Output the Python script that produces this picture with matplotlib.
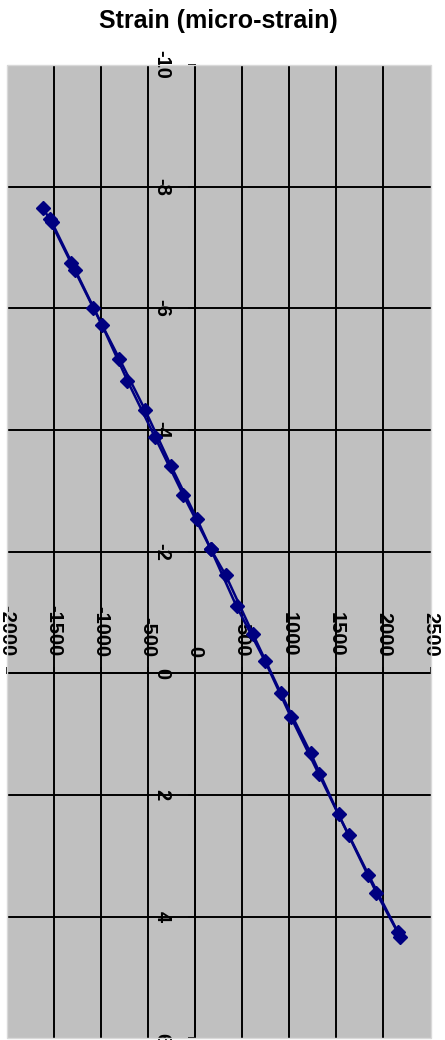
import matplotlib
matplotlib.use('Agg')
import matplotlib.pyplot as plt
from matplotlib.patches import Rectangle

plt.rcParams['font.family'] = ['Liberation Sans', 'DejaVu Sans']
plt.rcParams['font.weight'] = 'bold'

title = "Strain (micro-strain)"
strain_ticks = [-2000, -1500, -1000, -500, 0, 500, 1000, 1500, 2000, 2500]
pos_ticks = [-10, -8, -6, -4, -2, 0, 2, 4, 6]

# series A
pos_a = [-7.64, -7.41, -6.63, -5.73, -4.81, -3.88, -2.93, -2.04, -1.61, -0.64, 0.32, 1.31, 2.32, 3.31, 4.25]
strain_a = [-1618, -1522, -1275, -992, -721, -427, -127, 166, 325, 615, 908, 1226, 1523, 1841, 2152]
# series B
pos_b = [-7.46, -6.74, -6.00, -5.17, -4.32, -3.40, -2.53, -2.04, -1.10, -0.20, 0.71, 1.66, 2.66, 3.61, 4.33]
strain_b = [-1548, -1318, -1081, -806, -530, -254, 21, 166, 439, 742, 1014, 1314, 1629, 1926, 2177]

W, H = 445, 1040
fig = plt.figure(figsize=(W / 100, H / 100), dpi=100)
fig.patch.set_facecolor('white')
ax = fig.add_axes([7 / W, 1.6 / H, 423.5 / W, 973.5 / H])
ax.set_facecolor('#C0C0C0')
ax.set_xlim(strain_ticks[0], strain_ticks[-1])
ax.set_ylim(pos_ticks[-1], pos_ticks[0])

for t in strain_ticks[1:-1]:
    ax.axvline(t, color='black', lw=1.4, zorder=1)
for t in pos_ticks[1:-1]:
    ax.axhline(t, color='black', lw=1.4, zorder=1)

navy = '#000080'
ax.plot(strain_a, pos_a, color=navy, marker='D', ms=7.5, lw=1.8, zorder=4)
ax.plot(strain_b, pos_b, color=navy, marker='D', ms=7.5, lw=1.8, zorder=4)

ax.spines['left'].set_position(('data', 0))
ax.spines['top'].set_position(('data', 0))
ax.spines['right'].set_visible(False)
ax.spines['bottom'].set_visible(False)
for s in ('left', 'top'):
    ax.spines[s].set_linewidth(1.4)
    ax.spines[s].set_zorder(2)

ax.xaxis.tick_top()
ax.set_xticks(strain_ticks)
ax.set_xticklabels([str(t) for t in strain_ticks])
ax.set_yticks(pos_ticks)
ax.set_yticklabels([str(t) for t in pos_ticks])
ax.tick_params(axis='x', direction='out', length=4, width=1.3, pad=8, labelsize=14.5)
ax.tick_params(axis='y', direction='out', length=5, width=1.3, pad=12, labelsize=14.5)
for tk in ax.xaxis.get_major_ticks():
    for lbl in (tk.label1, tk.label2):
        lbl.set_rotation(-90)
        lbl.set_fontweight('bold')
        lbl.set_ha('center')
        lbl.set_va('bottom')
for tk in ax.yaxis.get_major_ticks():
    for lbl in (tk.label1, tk.label2):
        lbl.set_rotation(-90)
        lbl.set_fontweight('bold')
        lbl.set_ha('right')
        lbl.set_va('center')

ax.add_patch(Rectangle((0, 0), 1, 1, transform=ax.transAxes, fill=False,
                       edgecolor='#D9D9D9', lw=1.0, zorder=5, clip_on=False))

fig.text(218 / W, 1 - 21 / H, title, ha='center', va='center',
         fontsize=18, fontweight='bold')

fig.savefig('out.png', dpi=100)
